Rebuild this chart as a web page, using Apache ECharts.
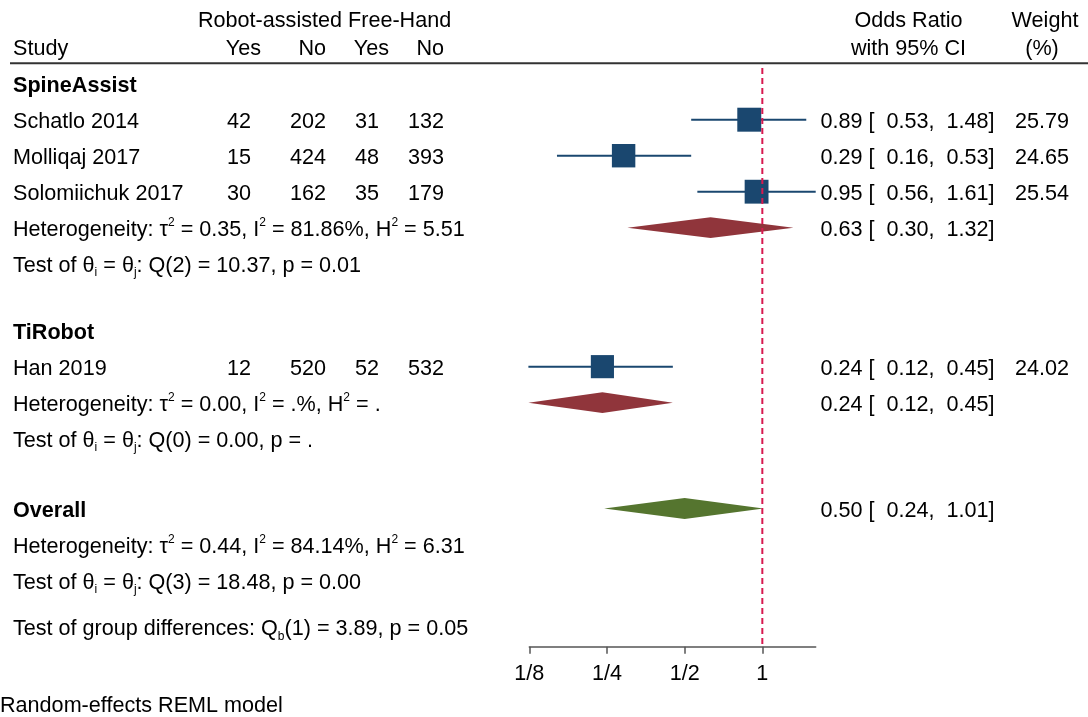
<!DOCTYPE html>
<html><head><meta charset="utf-8">
<script src="https://cdn.jsdelivr.net/npm/echarts@6/dist/echarts.min.js"></script>
<style>html,body{margin:0;padding:0;background:#fff}#c{width:1088px;height:717px}</style>
</head><body><div id="c"></div>
<script>
// ---------- data ----------
const studies   = ['Schatlo 2014', 'Molliqaj 2017', 'Solomiichuk 2017', 'Han 2019'];
const robotYes  = [42, 15, 30, 12];
const robotNo   = [202, 424, 162, 520];
const freeYes   = [31, 48, 35, 52];
const freeNo    = [132, 393, 179, 532];
const studyOR   = [0.89, 0.29, 0.95, 0.24];
const studyLo   = [0.53, 0.16, 0.56, 0.124];
const studyHi   = [1.48, 0.53, 1.61, 0.45];
const weights   = [25.79, 24.65, 25.54, 24.02];

const groups    = ['SpineAssist', 'TiRobot'];
const groupOR   = [0.63, 0.24];
const groupLo   = [0.30, 0.124];
const groupHi   = [1.32, 0.45];
const groupTau2 = ['0.35', '0.00'];
const groupI2   = ['81.86%', '.%'];
const groupH2   = ['5.51', '.'];
const groupQdf  = [2, 0];
const groupQ    = ['10.37', '0.00'];
const groupP    = ['0.01', '.'];

const overallOR = [0.50];
const overallLo = [0.244];
const overallHi = [1.01];
const overallTau2 = '0.44', overallI2 = '84.14%', overallH2 = '6.31';
const overallQdf = 3, overallQ = '18.48', overallP = '0.00';
const diffQdf = 1, diffQ = '3.89', diffP = '0.05';

const tickValues = [0.125, 0.25, 0.5, 1];
const tickLabels = ['1/8', '1/4', '1/2', '1'];

// ---------- layout (row indices) ----------
const studyRows   = [1, 2, 3, 7.86];
const groupRows   = [0, 6.86];
const groupSumRows = [4, 8.86];
const groupTestRows = [5, 9.86];
const overallRow = 11.8, overallHetRow = 12.8, overallTestRow = 13.8, diffRow = 15.1, noteRow = 17.23;
const yMin = -0.436, yMax = 15.639;

const FONT = 'Liberation Sans';
const FS = 21.6;
const chart = echarts.init(document.getElementById('c'), null, {renderer: 'canvas'});

const studyData = studies.map((s, i) => [studyOR[i], studyLo[i], studyHi[i], studyRows[i], weights[i]]);
const groupData = groups.map((g, i) => [groupOR[i], groupLo[i], groupHi[i], groupSumRows[i]]);
const overallData = overallOR.map((v, i) => [v, overallLo[i], overallHi[i], overallRow]);

function diamond(color) {
  return function (params, api) {
    const r = api.value(3);
    const c = api.coord([api.value(0), r]);
    const lo = api.coord([api.value(1), r]);
    const hi = api.coord([api.value(2), r]);
    const h = 10.4;
    return {type: 'polygon', shape: {points: [[lo[0], c[1]], [c[0], c[1] - h], [hi[0], c[1]], [c[0], c[1] + h]]},
      style: {fill: color}};
  };
}

chart.setOption({
  animation: false,
  grid: {left: 529.3, right: 1088 - 815.7, top: 68, bottom: 717 - 646.7, containLabel: false},
  xAxis: {
    type: 'log', logBase: 2, min: 0.125, max: 1.61, position: 'bottom',
    axisLine: {show: true, onZero: false, lineStyle: {color: '#555', width: 1.5}},
    axisTick: {show: true, length: 7, lineStyle: {color: '#555', width: 1.5}, customValues: tickValues},
    axisLabel: {fontFamily: FONT, fontSize: FS, color: '#000', margin: 16, customValues: tickValues,
      formatter: v => { const k = tickValues.findIndex(t => Math.abs(t - v) < 1e-6); return k >= 0 ? tickLabels[k] : ''; }},
    splitLine: {show: false}, minorTick: {show: false}
  },
  yAxis: {type: 'value', inverse: true, min: yMin, max: yMax, show: false, splitLine: {show: false}},
  series: [
    {
      type: 'custom', clip: false, data: studyData, encode: {x: [0, 1, 2], y: 3}, z: 2,
      renderItem(params, api) {
        const r = api.value(3);
        const lo = api.coord([api.value(1), r]);
        const hi = api.coord([api.value(2), r]);
        const c = api.coord([api.value(0), r]);
        const s = 4.72 * Math.sqrt(api.value(4));
        return {type: 'group', children: [
          {type: 'line', shape: {x1: lo[0], y1: lo[1], x2: hi[0], y2: hi[1]}, style: {stroke: '#1a476f', lineWidth: 2}},
          {type: 'rect', shape: {x: c[0] - s / 2, y: c[1] - s / 2, width: s, height: s}, style: {fill: '#1a476f'}}
        ]};
      }
    },
    {type: 'custom', clip: false, data: groupData, encode: {x: [0, 1, 2], y: 3}, z: 2, renderItem: diamond('#90353b')},
    {type: 'custom', clip: false, data: overallData, encode: {x: [0, 1, 2], y: 3}, z: 2, renderItem: diamond('#55752f')},
    {
      type: 'custom', clip: false, data: [[1, yMin, yMax]], encode: {x: 0, y: [1, 2]}, z: 10,
      renderItem(params, api) {
        const a = api.coord([api.value(0), api.value(1)]);
        const b = api.coord([api.value(0), api.value(2)]);
        return {type: 'line', shape: {x1: a[0], y1: a[1], x2: b[0], y2: b[1]},
          style: {stroke: '#d8194f', lineWidth: 2, lineDash: [6, 4]}};
      }
    }
  ]
});

// ---------- text table ----------
const Y = r => chart.convertToPixel({yAxisIndex: 0}, r);
const rich = {
  sup: {fontFamily: FONT, fontSize: 12, lineHeight: 12, verticalAlign: 'top', fill: '#000'},
  sub: {fontFamily: FONT, fontSize: 12, lineHeight: 12, verticalAlign: 'bottom', fill: '#000'}
};
const g = [];
function T(text, x, y, align, bold) {
  g.push({type: 'text', silent: true, style: {
    text: text, x: x, y: y, align: align || 'left', verticalAlign: 'middle',
    fontFamily: FONT, fontSize: FS, fontWeight: bold ? 'bold' : 'normal', fill: '#000',
    lineHeight: 26, rich: rich
  }});
}
const dy = 2.2;
const colLeft = 13, col1 = 251, col2 = 326, col3 = 379, col4 = 444, orX = 820.5, wX = 1069;
const fmtCI = (o, l, h) => `${o.toFixed(2)} [  ${l.toFixed(2)},  ${h.toFixed(2)}]`;

// header
T('Robot-assisted Free-Hand', 198, Y(-1.8) + dy);
T('Study', colLeft, Y(-1.02) + dy);
T('Yes', 261, Y(-1.02) + dy, 'right');
T('No', col2, Y(-1.02) + dy, 'right');
T('Yes', 389, Y(-1.02) + dy, 'right');
T('No', col4, Y(-1.02) + dy, 'right');
T('Odds Ratio', 908.5, Y(-1.8) + dy, 'center');
T('with 95% CI', 908.5, Y(-1.02) + dy, 'center');
T('Weight', 1045, Y(-1.8) + dy, 'center');
T('(%)', 1042, Y(-1.02) + dy, 'center');
g.push({type: 'line', silent: true, shape: {x1: 10, y1: 63.3, x2: 1088, y2: 63.3}, style: {stroke: '#333', lineWidth: 2}});

groups.forEach((gr, gi) => {
  T(gr, colLeft, Y(groupRows[gi]) + dy, 'left', true);
  studies.forEach((s, i) => {
    if ((i < 3 ? 0 : 1) !== gi) return;
    const y = Y(studyRows[i]) + dy;
    T(s, colLeft, y);
    T(String(robotYes[i]), col1, y, 'right');
    T(String(robotNo[i]), col2, y, 'right');
    T(String(freeYes[i]), col3, y, 'right');
    T(String(freeNo[i]), col4, y, 'right');
    T(fmtCI(studyOR[i], studyLo[i], studyHi[i]), orX, y);
    T(weights[i].toFixed(2), wX, y, 'right');
  });
  const ys = Y(groupSumRows[gi]) + dy;
  T(`Heterogeneity: τ{sup|2} = ${groupTau2[gi]}, I{sup|2} = ${groupI2[gi]}, H{sup|2} = ${groupH2[gi]}`, colLeft, ys);
  T(fmtCI(groupOR[gi], groupLo[gi], groupHi[gi]), orX, ys);
  T(`Test of θ{sub|i} = θ{sub|j}: Q(${groupQdf[gi]}) = ${groupQ[gi]}, p = ${groupP[gi]}`, colLeft, Y(groupTestRows[gi]) + dy);
});

T('Overall', colLeft, Y(overallRow) + dy, 'left', true);
T(fmtCI(overallOR[0], overallLo[0], overallHi[0]), orX, Y(overallRow) + dy);
T(`Heterogeneity: τ{sup|2} = ${overallTau2}, I{sup|2} = ${overallI2}, H{sup|2} = ${overallH2}`, colLeft, Y(overallHetRow) + dy);
T(`Test of θ{sub|i} = θ{sub|j}: Q(${overallQdf}) = ${overallQ}, p = ${overallP}`, colLeft, Y(overallTestRow) + dy);
T(`Test of group differences: Q{sub|b}(${diffQdf}) = ${diffQ}, p = ${diffP}`, colLeft, Y(diffRow) + dy);
T('Random-effects REML model', 0, Y(noteRow) + dy);

chart.setOption({graphic: {elements: g}});
</script>
</body></html>
